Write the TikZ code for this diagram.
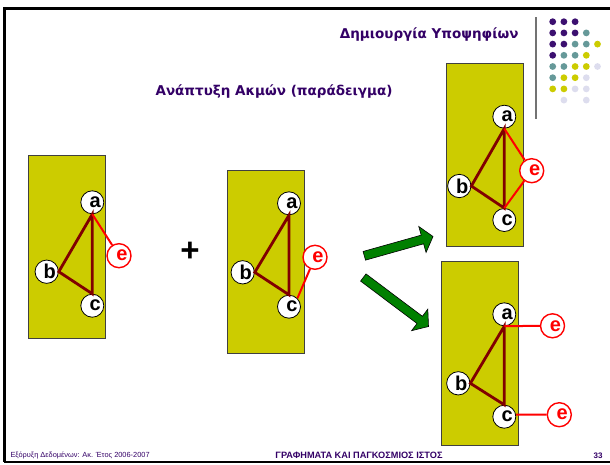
\documentclass[tikz,border=0pt]{standalone}
\usepackage{fontspec}
\setmainfont{Liberation Sans}
\newfontfamily\titlefont{DejaVu Sans}
\usetikzlibrary{calc}
\definecolor{ttl}{RGB}{51,0,102}
\definecolor{dpurple}{RGB}{60,16,112}
\definecolor{dteal}{RGB}{102,153,153}
\definecolor{dyellow}{RGB}{204,204,0}
\definecolor{dlav}{RGB}{221,221,238}
\definecolor{panelyellow}{RGB}{204,204,0}
\definecolor{darkred}{RGB}{128,0,0}
\definecolor{agreen}{RGB}{0,128,0}
\begin{document}
\begin{tikzpicture}[x=1pt,y=-1pt,
  vtx/.style={circle, draw=black, line width=0.8pt, fill=white, minimum size=23pt, inner sep=0pt, font=\bfseries\fontsize{20}{20}\selectfont},
  evtx/.style={vtx, draw=red, line width=1.4pt, text=red, minimum size=24pt},
  gedge/.style={draw=darkred, line width=2.8pt},
  redge/.style={draw=red, line width=2pt},
  panel/.style={draw=black!75, fill=panelyellow, line width=0.8pt},
  garrow/.style={fill=agreen, draw=black, line width=0.6pt, line join=miter},
  frameline/.style={draw=black, line width=2.7pt}]
\useasboundingbox (0,0) rectangle (610,464);
% frame
\draw[frameline] (3.4,8.7) -- (610,8.7);
\draw[frameline] (4.7,8.7) -- (4.7,462);
\draw[draw=black, line width=2.2pt] (3.6,462.3) -- (610,462.3);
\draw[draw=black!55, line width=1.6pt] (536,17) -- (536,119);
% dots
\foreach \c/\r/\col in {1/1/dpurple,2/1/dpurple,3/1/dpurple,
  1/2/dpurple,2/2/dpurple,3/2/dpurple,4/2/dteal,
  1/3/dpurple,2/3/dpurple,3/3/dteal,4/3/dteal,5/3/dyellow,
  1/4/dpurple,2/4/dteal,3/4/dteal,4/4/dyellow,
  1/5/dteal,2/5/dteal,3/5/dyellow,4/5/dyellow,5/5/dlav,
  1/6/dteal,2/6/dyellow,3/6/dyellow,4/6/dlav,
  1/7/dyellow,2/7/dyellow,3/7/dlav,4/7/dlav,
  2/8/dlav,4/8/dlav}
  \fill[\col] ({552.7+11.2*(\c-1)},{21.7+11.2*(\r-1)}) circle (3.4pt);
% titles
\node[anchor=east, text=ttl, font=\titlefont\bfseries\fontsize{13.5}{14}\selectfont] (title) at (522,35) {Δημιουργία Υποψηφίων};
\node[text=ttl, font=\titlefont\bfseries\fontsize{13.5}{14}\selectfont] (sub) at (274,92) {Ανάπτυξη Ακμών (παράδειγμα)};
% footer
\node[anchor=west, text=ttl, font=\fontsize{7.4}{8}\selectfont] (f1) at (7,455.5) {Εξόρυξη Δεδομένων: Ακ. Έτος 2006-2007};
\node[text=ttl, font=\bfseries\fontsize{9.2}{10}\selectfont] (f2) at (359,455.3) {ΓΡΑΦΗΜΑΤΑ ΚΑΙ ΠΑΓΚΟΣΜΙΟΣ ΙΣΤΟΣ};
\node[anchor=east, text=ttl, font=\bfseries\fontsize{8}{9}\selectfont] (f3) at (606,455.3) {33};
% panel 1
\node[panel, minimum width=77.4pt, minimum height=183pt, inner sep=0pt] (pan1) at (67,246.5) {};
\node[vtx] (p1a) at (92.3,202.3) {\hspace*{6pt}a};
\node[vtx] (p1b) at (46.7,271.7) {\hspace*{6pt}b};
\node[vtx] (p1c) at (92.3,305.7) {\hspace*{6pt}c};
\node[evtx] (p1e) at (119,255.7) {\hspace*{6pt}e};
\draw[gedge] (p1a.south) -- (p1b.east) -- (p1c.north) -- cycle;
\draw[redge] (p1a.south) -- (p1e);
% plus
\node[font=\bfseries\fontsize{33}{33}\selectfont] (plus) at (190,252) {+};
% panel 2
\node[panel, minimum width=77pt, minimum height=183pt, inner sep=0pt] (pan2) at (265.8,261.5) {};
\node[vtx] (p2a) at (289,203.3) {\hspace*{6pt}a};
\node[vtx] (p2b) at (242.7,272.3) {\hspace*{6pt}b};
\node[vtx] (p2c) at (289,306.7) {\hspace*{6pt}c};
\node[evtx] (p2e) at (315,257.3) {\hspace*{6pt}e};
\draw[gedge] (p2a.south) -- (p2b.east) -- (p2c.north) -- cycle;
\draw[redge] (p2c.north east) -- (p2e);
% panel 3
\node[panel, minimum width=77pt, minimum height=183.5pt, inner sep=0pt] (pan3) at (485.2,155) {};
\node[vtx] (p3a) at (504.3,116.7) {\hspace*{6pt}a};
\node[vtx] (p3b) at (459.3,186) {\hspace*{6pt}b};
\node[vtx] (p3c) at (504.3,220) {\hspace*{6pt}c};
\node[evtx] (p3e) at (531.7,170.7) {\hspace*{6pt}e};
\draw[gedge] (p3a.south) -- (p3b.east) -- (p3c.north) -- cycle;
\draw[redge] (p3a.south) -- (p3e);
\draw[redge] (p3c.north) -- (p3e);
% panel 4
\node[panel, minimum width=76.6pt, minimum height=183.3pt, inner sep=0pt] (pan4) at (480,353.4) {};
\node[vtx] (p4a) at (504.3,314.3) {\hspace*{6pt}a};
\node[vtx] (p4b) at (458.3,383.3) {\hspace*{6pt}b};
\node[vtx] (p4c) at (504.3,416.7) {\hspace*{6pt}c};
\node[evtx] (p4e1) at (552.5,325.8) {\hspace*{6pt}e};
\node[evtx] (p4e2) at (559.3,414.7) {\hspace*{6pt}e};
\draw[gedge] (p4a.south) -- (p4b.east) -- (p4c.north) -- cycle;
\draw[redge] (p4a.south) -- (p4e1.west);
\draw[redge] (p4c.10) -- (p4e2.west);
% green arrows
\coordinate (g1s) at (364.3,255.8);
\coordinate (g1e) at (433,236.5);
\coordinate (g2s) at (363.3,277.5);
\coordinate (g2e) at (428.5,326.5);
\foreach \s/\e in {g1s/g1e, g2s/g2e}{
  \path ($(\e)!11pt!(\s)$) coordinate (hb);
  \draw[garrow] ($(\s)!4.5pt!90:(\e)$) -- ($(hb)!4.5pt!90:(\e)$) -- ($(hb)!13.5pt!90:(\e)$) -- (\e)
     -- ($(hb)!13.5pt!-90:(\e)$) -- ($(hb)!4.5pt!-90:(\e)$) -- ($(\s)!4.5pt!-90:(\e)$) -- cycle;
}
\end{tikzpicture}
\end{document}
